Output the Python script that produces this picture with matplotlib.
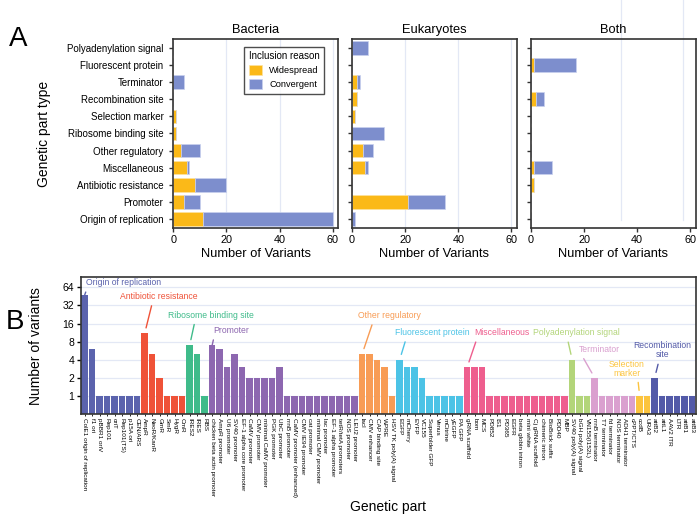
import numpy as np
import matplotlib.pyplot as plt

plt.rcParams['font.family'] = ['Liberation Sans', 'DejaVu Sans']

# ---- panel A data (bottom to top) ----
part_types = ['Origin of replication', 'Promoter', 'Antibiotic resistance', 'Miscellaneous',
              'Other regulatory', 'Ribosome binding site', 'Selection marker',
              'Recombination site', 'Terminator', 'Fluorescent protein',
              'Polyadenylation signal']
panel_titles = ['Bacteria', 'Eukaryotes', 'Both']
bact_wide = [11, 4, 8, 5, 3, 1, 1, 0, 0, 0, 0]
bact_conv = [49, 6, 12, 1, 7, 0, 0, 0, 4, 0, 0]
euk_wide = [0, 21, 0, 5, 4, 0, 1, 2, 2, 0, 0]
euk_conv = [1, 14, 0, 1, 4, 12, 0, 0, 1, 0, 6]
both_wide = [0, 0, 1, 1, 0, 0, 0, 2, 0, 1, 0]
both_conv = [0, 0, 0, 7, 0, 0, 0, 3, 0, 16, 0]

# ---- panel B data ----
parts = ['ColE1 origin of replication', 'f1 ori', 'pBBR1 oriV', 'Rep101', 'oriT', 'Rep101(TS)',
         'p15A ori', 'CEN/ARS',
         'AmpR', 'NeoR/KanR', 'GmR', 'SmR', 'HygR', 'CmR',
         'IRES2', 'IRES', 'RBS',
         'chicken beta actin promoter', 'AmpR promoter', 'U6 promoter', 'SV40 promoter',
         'EF-1 alpha core promoter', 'CaMV promoter', 'CMV promoter', 'minimal CaMV promoter',
         'PGK promoter', 'UbC promoter', 'rrnB promoter', 'CaMV promoter (enhanced)',
         'CMV IE94 promoter', 'cat promoter', 'minimal CMV promoter', 'lac promoter',
         'EF-1 alpha promoter', 'tetR/tetA promoters', 'NOS promoter', 'LEU2 promoter',
         'lacI', 'CMV enhancer', 'CAP binding site', 'WPRE', 'HSV TK poly(A) signal',
         'EGFP', 'mCherry', 'EYFP', 'VC155', 'Superfolder GFP', 'Venus', 'mCitrine', 'yEGFP',
         'PA GFP',
         'gRNA scaffold', 'bom', 'MCS', 'PD852', 'IS1', 'PD365', 'EGFR', 'beta globin intron',
         'mini white', 'Cj gRNA scaffold', 'chimeric intron', 'BioBrick suffix', 'PDD40', 'MBP',
         'SV40 poly(A) signal', 'bGH poly(A) signal', 'VN155(I152L)',
         'rrnB terminator', 'T7 terminator', 'fd terminator', 'NOS terminator',
         'ADH1 terminator', 'cPPT/CTS',
         'ccdB', 'URA3',
         'attB2', 'attL1', 'AAV2 ITR', 'LTR', 'attB1', 'attB3']
variants = [48, 6, 1, 1, 1, 1, 1, 1,
            11, 5, 2, 1, 1, 1,
            7, 5, 1,
            7, 6, 3, 5, 3, 2, 2, 2, 2, 3, 1, 1, 1, 1, 1, 1, 1, 1, 1, 1,
            5, 5, 4, 3, 1,
            4, 3, 3, 2, 1, 1, 1, 1, 1,
            3, 3, 3, 1, 1, 1, 1, 1, 1, 1, 1, 1, 1, 1,
            4, 1, 1,
            2, 1, 1, 1, 1, 1,
            1, 1,
            2, 1, 1, 1, 1, 1]
group_labels = ['Origin of replication', 'Antibiotic resistance', 'Ribosome binding site',
                'Promoter', 'Other regulatory', 'Fluorescent protein', 'Miscellaneous',
                'Polyadenylation signal', 'Terminator', 'Selection\nmarker',
                'Recombination\nsite']
group_sizes = [8, 6, 3, 20, 5, 9, 14, 3, 6, 2, 6]
group_colors = ['#5b63ad', '#ef5238', '#3fbb8a', '#8d67b0', '#f89c55', '#4cc3e6',
                '#ee5e8e', '#b3d57a', '#daa0cf', '#fcc43e', '#535aa8']

wide_color = '#fbb918'
conv_color = '#7d8ecd'
grid_color = '#e3e8f5'

fig = plt.figure(figsize=(6.98, 5.18), dpi=100)

# ---------- panel A ----------
lefts = [0.2483, 0.5043, 0.7607]
wides = [bact_wide, euk_wide, both_wide]
convs = [bact_conv, euk_conv, both_conv]
y = np.arange(len(part_types))
for k in range(3):
    ax = fig.add_axes([lefts[k], 0.5593, 0.2360, 0.366])
    w = np.array(wides[k])
    c = np.array(convs[k])
    ax.barh(y, w, height=0.8, color=wide_color, edgecolor='#fde3a0', linewidth=0.5,
            label='Widespread', zorder=2)
    ax.barh(y, c, left=w, height=0.8, color=conv_color, edgecolor='#c9d1ee', linewidth=0.5,
            label='Convergent', zorder=2)
    ax.set_xlim(0, 62)
    ax.set_ylim(-0.55, 10.55)
    ax.set_xticks([0, 20, 40, 60])
    ax.set_yticks(y)
    ax.tick_params(axis='both', length=3, width=1, color='#333333', pad=2)
    ax.tick_params(axis='x', labelsize=7.8)
    if k < 2:
        for gx in [20, 40, 60]:
            ax.axvline(gx, color=grid_color, lw=0.9, zorder=0)
    else:
        for gx in [33.7, 57.2]:
            ax.axvline(gx, ymin=0.044, ymax=1.21, color=grid_color, lw=0.9, zorder=0,
                       clip_on=False)
    if k == 0:
        ax.set_yticklabels(part_types)
        ax.tick_params(axis='y', labelsize=7.0, pad=4)
        ax.set_ylabel('Genetic part type', fontsize=10, labelpad=12)
        leg = ax.legend(title='Inclusion reason', loc='upper right',
                        bbox_to_anchor=(0.915, 0.958), borderaxespad=0, fontsize=6.7,
                        title_fontsize=7.0, fancybox=False, edgecolor='#222222',
                        handlelength=1.3, handleheight=1.3, borderpad=0.5,
                        labelspacing=0.4)
        leg.get_frame().set_linewidth(1.0)
    else:
        ax.set_yticklabels([])
    ax.set_title(panel_titles[k], fontsize=9.3, pad=4)
    ax.set_xlabel('Number of Variants', fontsize=9.3, labelpad=2)
    for s in ax.spines.values():
        s.set_linewidth(1.2)
        s.set_color('#333333')

fig.text(0.026, 0.925, 'A', fontsize=20, va='center', ha='center')

# ---------- panel B ----------
axb = fig.add_axes([0.116, 0.2008, 0.881, 0.2639])
ymin = 0.5
x = np.arange(len(parts))
bar_colors = []
for col, n in zip(group_colors, group_sizes):
    bar_colors += [col] * n
axb.bar(x, np.array(variants) - ymin, bottom=ymin, width=0.86, color=bar_colors, zorder=2)
axb.set_yscale('log', base=2)
axb.set_ylim(ymin, 94)
axb.set_xlim(-0.5, len(parts) - 0.5)
yt = [1, 2, 4, 8, 16, 32, 64]
axb.set_yticks(yt)
axb.set_yticklabels([str(v) for v in yt])
axb.minorticks_off()
for v in yt:
    axb.axhline(v, color=grid_color, lw=0.9, zorder=0)
axb.set_xticks(x)
axb.set_xticklabels(parts, rotation=270, fontsize=4.6, va='top', ha='center')
axb.tick_params(axis='x', length=1.5, width=0.6, pad=1.5)
axb.tick_params(axis='y', labelsize=7.5, length=3, width=1, pad=2)
axb.set_ylabel('Number of variants', fontsize=10, labelpad=14)
axb.set_xlabel('Genetic part', fontsize=10, labelpad=2)
for s in axb.spines.values():
    s.set_linewidth(1.2)
    s.set_color('#333333')

# group annotations: text position (bar-index units, log value), where leader starts
text_pos = [(0.17, 76), (9.9, 45), (16.8, 22), (19.5, 12.2), (40.7, 21.6), (46.4, 11.3),
            (55.6, 11.2), (65.6, 11.2), (68.6, 5.9), (72.3, 2.85), (77.0, 5.7)]
text_ha = ['left', 'center', 'center', 'center', 'center', 'center', 'center', 'center',
           'center', 'center', 'center']
lead_rel = [0.02, 0.42, 0.32, 0.04, 0.24, 0.15, 0.06, 0.39, 0.06, 0.8, 0.45]
starts = np.concatenate([[0], np.cumsum(group_sizes)[:-1]])
for lab, col, i0, (tx, ty), ha, rx in zip(group_labels, group_colors, starts, text_pos,
                                          text_ha, lead_rel):
    axb.annotate(lab, xy=(i0, variants[i0]), xytext=(tx, ty), ha=ha, va='center',
                 color=col, fontsize=6.2, linespacing=1.0,
                 arrowprops=dict(arrowstyle='-', color=col, lw=1.0, relpos=(rx, 0),
                                 shrinkA=1.5, shrinkB=4))

fig.text(0.022, 0.378, 'B', fontsize=20, va='center', ha='center')

fig.savefig('out.png', dpi=100)
